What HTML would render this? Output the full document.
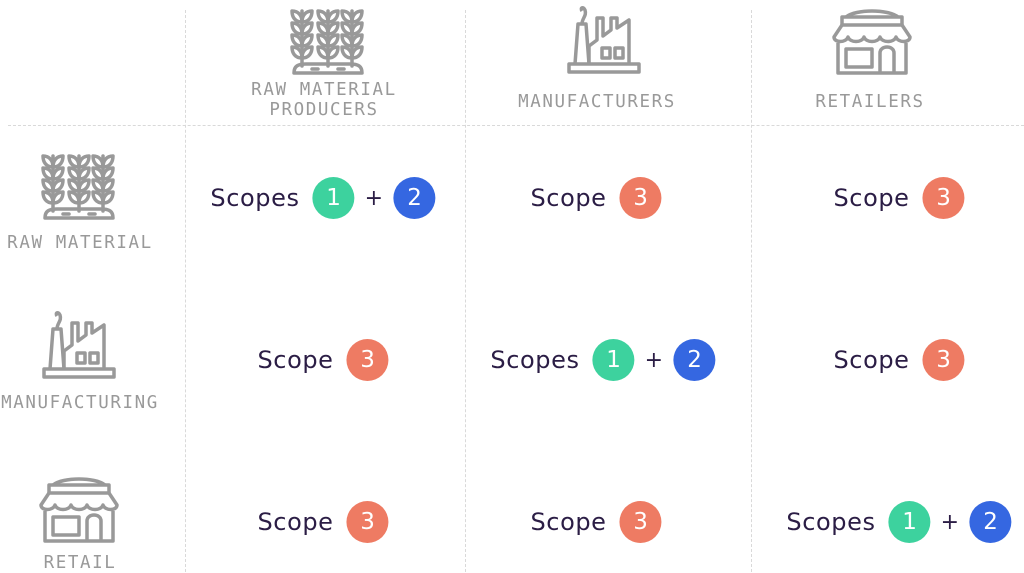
<!DOCTYPE html>
<html><head><meta charset="utf-8"><style>
body{margin:0;width:1024px;height:572px;background:#fff;position:relative;overflow:hidden}
.v{position:absolute;top:10px;bottom:0;width:0;border-left:1.5px dashed #d9d9d9}
.h{position:absolute;left:8px;right:0;top:125px;height:0;border-top:1.5px dashed #d9d9d9}
.lab{position:absolute;font-family:"DejaVu Sans Mono","Liberation Mono",monospace;font-size:17.5px;letter-spacing:1.6px;color:#999;text-align:center;line-height:20px;transform:translateX(-50%);white-space:nowrap}
.cell{position:absolute;transform:translate(-50%,-50%);display:flex;align-items:center;white-space:nowrap;font-family:"DejaVu Sans","Liberation Sans",sans-serif;color:#2b1d45;font-size:24px;letter-spacing:0.6px}
.c{width:42px;height:42px;border-radius:50%;color:#fff;display:flex;align-items:center;justify-content:center;font-size:23px;letter-spacing:0}
.g{background:#3dd29e}.b{background:#3567e1}.o{background:#ee7b63}
.p{margin:0 10px;font-size:22px}
.ic{position:absolute}
</style></head><body>
<svg width="0" height="0" style="position:absolute">
<defs>
<g id="wheat" fill="none" stroke="#999" stroke-width="3.5" stroke-linecap="round" stroke-linejoin="round">
<g id="stalk">
<line x1="12" y1="5" x2="12" y2="60"/>
<path d="M12 16 C5 16 2 11 2 5 C8 5 12 9 12 16 C12 9 16 5 22 5 C22 11 19 16 12 16Z"/>
<path d="M12 28 C5 28 2 23 2 17 C8 17 12 21 12 28 C12 21 16 17 22 17 C22 23 19 28 12 28Z"/>
<path d="M12 40 C5 40 2 35 2 29 C8 29 12 33 12 40 C12 33 16 29 22 29 C22 35 19 40 12 40Z"/>
<path d="M12 52 C5 52 2 47 2 41 C8 41 12 45 12 52 C12 45 16 41 22 41 C22 47 19 52 12 52Z"/>
</g>
<use href="#stalk" x="26"/><use href="#stalk" x="50"/>
<path d="M4 67 C4 60 8 58 16 58 L60 58 C68 58 72 60 72 67 Z"/>
<line x1="22" y1="63" x2="28" y2="63"/><line x1="48" y1="63" x2="54" y2="63"/>
</g>
<g id="fact" fill="none" stroke="#999" stroke-width="3.5" stroke-linejoin="round">
<rect x="2" y="62" width="70" height="8"/>
<path d="M8 62 L11 22 L19 22 L22 62"/>
<path d="M22 62 L22 44 L30 38 L30 16 L36 16 L36 34 L44 28 L44 16 L50 16 L50 26 L62 18 L62 62"/>
<rect x="35" y="46" width="8" height="10"/><rect x="48" y="46" width="8" height="10"/>
<path d="M15 22 C15 16 20 14 18 8 C16 4 13 6 15 9"/>
</g>
<g id="store" fill="none" stroke="#999" stroke-width="3.5" stroke-linejoin="round">
<path d="M14 10 C24 2 56 2 66 10"/>
<rect x="10" y="10" width="60" height="8"/>
<path d="M10 18 L2 30 C2 36 14 36 16 30 C18 36 30 36 32 30 C34 36 46 36 48 30 C50 36 62 36 64 30 C66 36 78 36 78 30 L70 18"/>
<path d="M6 36 L6 66 L74 66 L74 36"/>
<rect x="14" y="42" width="26" height="18"/>
<path d="M48 66 L48 46 C48 38 62 38 62 46 L62 66"/>
</g>
</defs></svg>

<div class="v" style="left:185px"></div>
<div class="v" style="left:465px"></div>
<div class="v" style="left:751px"></div>
<div class="h"></div>

<svg class="ic" style="left:290px;top:6px" width="78" height="70"><use href="#wheat"/></svg>
<svg class="ic" style="left:41px;top:151px" width="78" height="70"><use href="#wheat"/></svg>
<svg class="ic" style="left:567px;top:2px" width="76" height="74"><use href="#fact"/></svg>
<svg class="ic" style="left:42px;top:307px" width="76" height="76"><use href="#fact"/></svg>
<svg class="ic" style="left:832px;top:7px" width="82" height="70"><use href="#store"/></svg>
<svg class="ic" style="left:39px;top:475px" width="82" height="70"><use href="#store"/></svg>

<div class="lab" style="left:324px;top:80px">RAW MATERIAL<br>PRODUCERS</div>
<div class="lab" style="left:597px;top:92px">MANUFACTURERS</div>
<div class="lab" style="left:870px;top:92px">RETAILERS</div>
<div class="lab" style="left:80px;top:233px">RAW MATERIAL</div>
<div class="lab" style="left:80px;top:393px">MANUFACTURING</div>
<div class="lab" style="left:80px;top:553px">RETAIL</div>

<div class="cell" style="left:323px;top:198px"><span>Scopes</span><div class="c g" style="margin-left:13px">1</div><span class="p">+</span><div class="c b">2</div></div>
<div class="cell" style="left:596px;top:198px"><span>Scope</span><div class="c o" style="margin-left:13px">3</div></div>
<div class="cell" style="left:899px;top:198px"><span>Scope</span><div class="c o" style="margin-left:13px">3</div></div>

<div class="cell" style="left:323px;top:360px"><span>Scope</span><div class="c o" style="margin-left:13px">3</div></div>
<div class="cell" style="left:603px;top:360px"><span>Scopes</span><div class="c g" style="margin-left:13px">1</div><span class="p">+</span><div class="c b">2</div></div>
<div class="cell" style="left:899px;top:360px"><span>Scope</span><div class="c o" style="margin-left:13px">3</div></div>

<div class="cell" style="left:323px;top:522px"><span>Scope</span><div class="c o" style="margin-left:13px">3</div></div>
<div class="cell" style="left:596px;top:522px"><span>Scope</span><div class="c o" style="margin-left:13px">3</div></div>
<div class="cell" style="left:899px;top:522px"><span>Scopes</span><div class="c g" style="margin-left:13px">1</div><span class="p">+</span><div class="c b">2</div></div>
</body></html>
